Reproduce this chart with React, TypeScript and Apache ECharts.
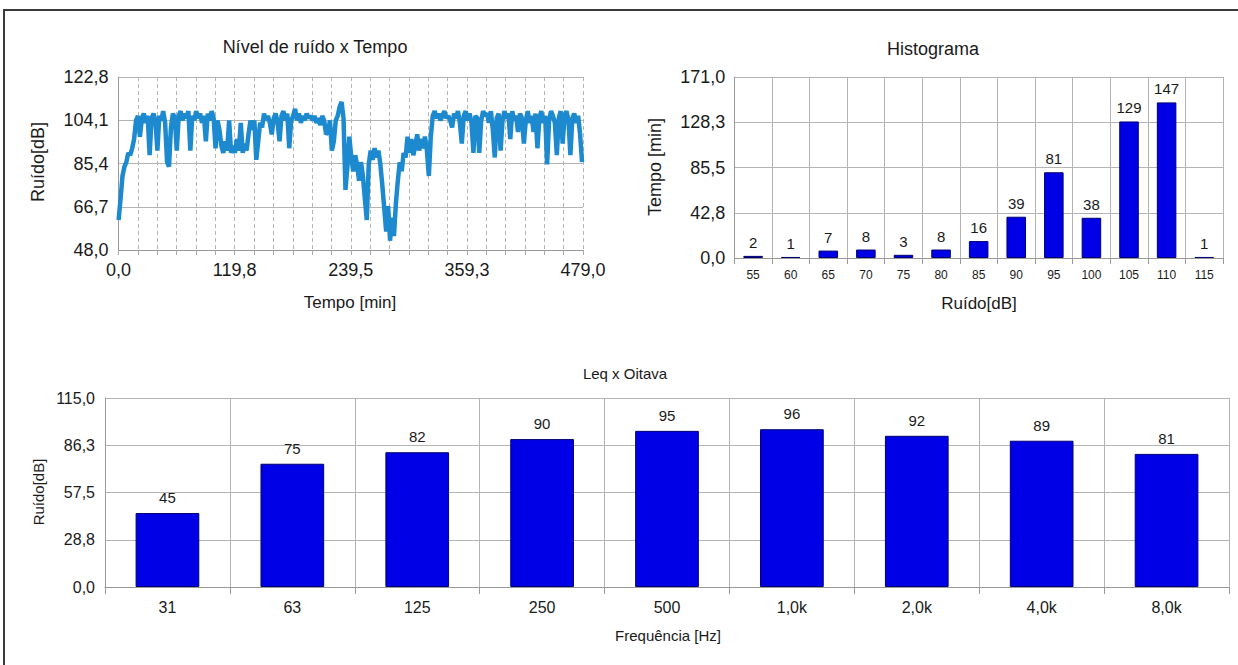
import React, { useEffect, useRef } from "react";
import * as echarts from "echarts";

// Time series (one reading every 2 min, 0..478 min)
const noiseLevels: number[] = [
  61, 70, 80, 84, 86, 90, 89, 92, 96, 104,
  106, 97, 105, 107, 103, 106, 89, 105, 107, 104,
  91, 106, 104, 108, 103, 86, 84, 101, 107, 105,
  91, 106, 108, 104, 107, 105, 108, 91, 106, 104,
  108, 105, 107, 103, 106, 95, 107, 104, 108, 105,
  92, 104, 100, 93, 90, 95, 91, 104, 90, 93,
  90, 96, 91, 103, 90, 94, 91, 98, 104, 100,
  104, 87, 95, 103, 101, 107, 104, 106, 103, 98,
  105, 107, 103, 95, 106, 108, 104, 107, 92, 104,
  106, 109, 104, 107, 103, 106, 104, 107, 105, 106,
  104, 106, 103, 105, 102, 106, 104, 98, 99, 104,
  91, 95, 104, 106, 110, 112, 105, 74, 84, 97,
  88, 82, 89, 85, 78, 86, 80, 70, 61, 85,
  91, 87, 92, 88, 91, 85, 76, 66, 56, 67,
  52, 62, 54, 68, 78, 86, 82, 90, 88, 97,
  90, 96, 89, 93, 98, 91, 96, 92, 97, 91,
  80, 97, 106, 108, 105, 107, 104, 106, 108, 105,
  106, 104, 101, 107, 105, 108, 103, 94, 106, 108,
  104, 107, 103, 90, 106, 105, 90, 104, 108, 106,
  107, 103, 108, 100, 88, 105, 107, 91, 104, 108,
  105, 107, 96, 108, 104, 106, 99, 107, 105, 94,
  104, 108, 103, 106, 99, 107, 92, 105, 108, 103,
  106, 85, 104, 108, 106, 103, 89, 105, 108, 94,
  106, 108, 104, 89, 105, 107, 103, 106, 98, 86,
];
const sampleStepMin = 2;

// Histogram
const histCategories = ["55", "60", "65", "70", "75", "80", "85", "90", "95", "100", "105", "110", "115"];
const histValues = [2, 1, 7, 8, 3, 8, 16, 39, 81, 38, 129, 147, 1];

// Octave bands
const octaveCategories = ["31", "63", "125", "250", "500", "1,0k", "2,0k", "4,0k", "8,0k"];
const octaveValues = [45, 75, 82, 90, 95, 96, 92, 89, 81];

const FONT = "'Liberation Sans', Arial, sans-serif";
const TXT = "#1a1a1a";
const GRID_C = "#b4b4b4";
const BAR_C = "#0000e6";
const BAR_BORDER = "#000070";

const fmt1 = (v: number) => v.toFixed(1).replace(".", ",");
const MAJOR_T = 119.75;

export default function App() {
  const ref = useRef<HTMLDivElement>(null);

  useEffect(() => {
    document.body.style.margin = "0";
    if (!ref.current) return;
    const chart = echarts.init(ref.current, undefined, { renderer: "svg" });

    const lineData = noiseLevels.map((v, i) => [i * sampleStepMin, v]);

    const text = (t: string, x: number, y: number, size: number, rot = 0) => ({
      type: "text",
      x,
      y,
      rotation: rot,
      style: {
        text: t,
        fontSize: size,
        fontFamily: FONT,
        fill: TXT,
        textAlign: "center",
        textVerticalAlign: "middle",
        align: "center",
        verticalAlign: "middle",
      },
    });

    const option: any = {
      animation: false,
      backgroundColor: "#ffffff",
      textStyle: { fontFamily: FONT },
      graphic: [
        {
          type: "rect",
          shape: { x: 4, y: 10, width: 1400, height: 800 },
          style: { fill: "none", stroke: "#3a3a3a", lineWidth: 2 },
          silent: true,
        },
        text("Nível de ruído x Tempo", 315, 47, 18),
        text("Tempo [min]", 350, 302, 17),
        text("Ruído[dB]", 38, 162, 18, Math.PI / 2),
        text("Histograma", 933, 49, 18),
        text("Ruído[dB]", 979, 303, 17),
        text("Tempo [min]", 655, 167, 18, Math.PI / 2),
        text("Leq x Oitava", 625, 373, 15),
        text("Frequência [Hz]", 668, 635, 15),
        text("Ruído[dB]", 38, 492, 15, Math.PI / 2),
      ],
      grid: [
        { left: 118.6, top: 77, width: 464.4, height: 173, containLabel: false },
        { left: 734.3, top: 77, width: 488.7, height: 181, containLabel: false },
        { left: 105, top: 398, width: 1124, height: 189, containLabel: false },
      ],
      xAxis: [
        {
          type: "value",
          gridIndex: 0,
          min: 0,
          max: 479,
          interval: 479 / 24,
          axisLine: { show: true, lineStyle: { color: "#999" } },
          axisTick: { show: true, length: 5, lineStyle: { color: "#aaa" } },
          splitLine: { show: true, lineStyle: { color: GRID_C, type: [4, 3], width: 1 } },
          axisLabel: {
            fontSize: 18,
            color: TXT,
            margin: 11,
            formatter: (v: number) => {
              const k = v / MAJOR_T;
              const r = Math.round(k);
              return Math.abs(k - r) < 1e-6 ? fmt1(r * MAJOR_T) : "";
            },
          },
        },
        {
          type: "category",
          gridIndex: 1,
          data: histCategories,
          axisLine: { show: true, lineStyle: { color: "#999" } },
          axisTick: { show: true, length: 6, lineStyle: { color: "#999" } },
          splitLine: { show: true, lineStyle: { color: GRID_C } },
          axisLabel: { fontSize: 12, color: TXT, margin: 11, interval: 0 },
        },
        {
          type: "category",
          gridIndex: 2,
          data: octaveCategories,
          axisLine: { show: true, lineStyle: { color: "#999" } },
          axisTick: { show: true, length: 7, lineStyle: { color: "#999" } },
          splitLine: { show: true, lineStyle: { color: GRID_C } },
          axisLabel: { fontSize: 16, color: TXT, margin: 12, interval: 0 },
        },
      ],
      yAxis: [
        {
          type: "value",
          gridIndex: 0,
          min: 48,
          max: 122.8,
          interval: 18.7,
          axisLine: { show: true, lineStyle: { color: "#999" } },
          axisTick: { show: false },
          splitLine: { show: true, lineStyle: { color: GRID_C } },
          axisLabel: { fontSize: 18, color: TXT, margin: 10, formatter: fmt1 },
        },
        {
          type: "value",
          gridIndex: 1,
          min: 0,
          max: 171,
          interval: 42.75,
          axisLine: { show: true, lineStyle: { color: "#999" } },
          axisTick: { show: false },
          splitLine: { show: true, lineStyle: { color: GRID_C } },
          axisLabel: { fontSize: 18, color: TXT, margin: 9, formatter: fmt1 },
        },
        {
          type: "value",
          gridIndex: 2,
          min: 0,
          max: 115,
          interval: 28.75,
          axisLine: { show: true, lineStyle: { color: "#999" } },
          axisTick: { show: false },
          splitLine: { show: true, lineStyle: { color: GRID_C } },
          axisLabel: { fontSize: 16, color: TXT, margin: 10, formatter: fmt1 },
        },
      ],
      series: [
        {
          type: "line",
          xAxisIndex: 0,
          yAxisIndex: 0,
          data: lineData,
          showSymbol: false,
          symbol: "none",
          lineStyle: { color: "#1d8ad0", width: 4.5 },
        },
        {
          type: "bar",
          xAxisIndex: 1,
          yAxisIndex: 1,
          data: histValues,
          barWidth: "52%",
          itemStyle: { color: BAR_C, borderColor: BAR_BORDER, borderWidth: 1 },
          label: { show: true, position: "top", distance: 6, fontSize: 15, color: TXT, fontFamily: FONT },
        },
        {
          type: "bar",
          xAxisIndex: 2,
          yAxisIndex: 2,
          data: octaveValues,
          barWidth: "51%",
          itemStyle: { color: BAR_C, borderColor: BAR_BORDER, borderWidth: 1 },
          label: { show: true, position: "top", distance: 8, fontSize: 15, color: TXT, fontFamily: FONT },
        },
      ],
    };

    chart.setOption(option);
    return () => chart.dispose();
  }, []);

  return <div ref={ref} style={{ width: 1238, height: 665 }} />;
}
